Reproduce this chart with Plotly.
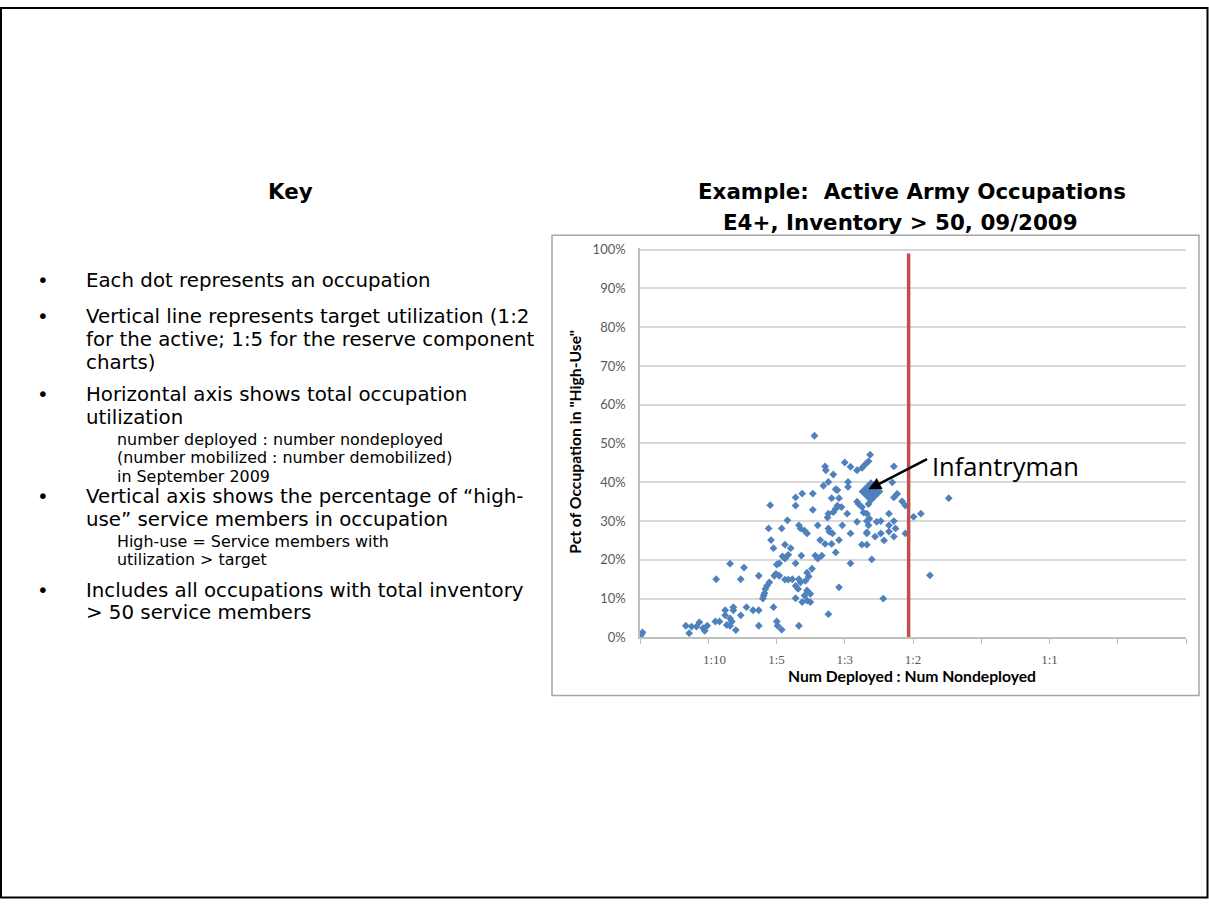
import plotly.graph_objects as go

W, H = 1209, 907

# ---- data (deployed share of occupation = deployed / (deployed + nondeployed), pct high-use) ----
deployed_share = [
    0.000, 0.002, 0.003, 0.001,
    0.056, 0.060, 0.063, 0.069, 0.0725, 0.077, 0.079, 0.082, 0.092, 0.097,
    0.104, 0.104, 0.106, 0.110, 0.110, 0.112, 0.114, 0.114, 0.117, 0.123,
    0.130, 0.138, 0.145, 0.145, 0.163, 0.167, 0.168, 0.173, 0.194, 0.230,
    0.093, 0.110, 0.123, 0.127, 0.145,
    0.150, 0.151, 0.152, 0.153, 0.155, 0.158, 0.164, 0.166, 0.170, 0.177, 0.181, 0.186,
    0.157, 0.159, 0.160, 0.163, 0.167, 0.170, 0.173, 0.174, 0.177, 0.177, 0.180, 0.181,
    0.184, 0.190, 0.190, 0.190, 0.194, 0.196, 0.197, 0.198, 0.201, 0.204, 0.211, 0.211,
    0.214, 0.217, 0.222, 0.217, 0.220, 0.226, 0.234, 0.243, 0.239, 0.230, 0.231, 0.235,
    0.247, 0.257, 0.230, 0.229, 0.236, 0.239, 0.241, 0.253, 0.234, 0.243, 0.224, 0.241, 0.254,
    0.210, 0.204, 0.206, 0.202, 0.194, 0.196, 0.190, 0.193, 0.204, 0.208, 0.190, 0.201,
    0.204, 0.208, 0.198, 0.243, 0.257,
    0.213, 0.226, 0.227, 0.236, 0.250, 0.257, 0.230, 0.254, 0.239, 0.246, 0.265, 0.267,
    0.279, 0.273, 0.280, 0.265, 0.279, 0.289, 0.277, 0.271, 0.277, 0.283,
    0.281, 0.279, 0.275, 0.271, 0.265, 0.310, 0.308, 0.314, 0.310, 0.271, 0.320, 0.324,
    0.377, 0.277, 0.304, 0.343, 0.334, 0.277, 0.294, 0.310, 0.304, 0.312, 0.277, 0.294,
    0.304, 0.324, 0.287, 0.298, 0.310, 0.354, 0.297,
]
pct_high_use = [
    0.3, 0.9, 1.3, 0.0,
    3.0, 1.1, 2.8, 2.8, 3.9, 2.4, 1.7, 3.0, 4.1, 4.1,
    7.0, 5.7, 3.2, 3.0, 4.9, 4.1, 7.8, 7.0, 1.9, 5.7,
    7.8, 7.0, 7.0, 3.0, 7.8, 4.1, 3.0, 2.0, 3.0, 6.0,
    15.0, 19.0, 15.0, 18.0, 15.9,
    10.0, 10.8, 11.4, 12.5, 13.3, 14.2, 15.9, 16.4, 15.9, 14.9, 14.9, 15.0,
    28.1, 34.1, 25.1, 23.0, 18.8, 19.1, 28.1, 20.9, 20.3, 23.9, 30.2, 21.3,
    23.0, 19.1, 34.0, 36.1, 28.9, 28.1, 21.1, 37.1, 27.5, 26.8, 37.1, 32.9,
    21.1, 20.3, 21.1, 28.9, 25.1, 24.1, 24.1, 25.1, 21.9, 28.1, 27.3, 26.8,
    28.9, 26.8, 31.9, 30.9, 32.3, 33.2, 34.0, 31.9, 35.9, 35.9, 39.1, 38.0, 38.8,
    17.7, 16.7, 15.7, 14.6, 15.0, 14.2, 13.3, 12.5, 12.1, 11.2, 10.1, 10.8,
    9.5, 9.1, 9.1, 12.9, 19.1,
    52.0, 44.1, 43.1, 42.0, 45.1, 44.0, 40.1, 40.1, 38.2, 33.6, 35.0, 34.4,
    34.4, 32.2, 30.6, 29.8, 28.9, 29.8, 27.1, 23.9, 23.9, 20.1,
    47.1, 45.4, 44.6, 43.7, 43.1, 44.1, 40.0, 37.0, 36.1, 33.6, 35.1, 34.0,
    35.9, 31.9, 31.9, 31.9, 31.1, 30.0, 30.0, 30.0, 28.9, 28.1, 26.8, 26.8,
    27.3, 26.8, 26.0, 25.0, 26.0, 16.0, 10.0,
]
infantry_share = [0.282]
infantry_pct = [37.6]
target_share = [0.328, 0.328]
target_pct = [0, 99]

ratio_tick_vals = [1 / 11, 1 / 6, 1 / 4, 1 / 3, 1 / 2]
ratio_tick_text = ["1:10", "1:5", "1:3", "1:2", "1:1"]
minor_tick_vals = [0, 1 / 12, 2 / 12, 3 / 12, 4 / 12, 5 / 12, 6 / 12, 7 / 12, 8 / 12]
y_tick_vals = [0, 10, 20, 30, 40, 50, 60, 70, 80, 90, 100]
y_tick_text = ["0%", "10%", "20%", "30%", "40%", "50%", "60%", "70%", "80%", "90%", "100%"]

key_bullets = [
    ("Each dot represents an occupation", 278),
    ("Vertical line represents target utilization (1:2", 315),
    ("Horizontal axis shows total occupation", 394),
    ("Vertical axis shows the percentage of \u201chigh-", 498),
    ("Includes all occupations with total inventory", 593),
]
key_cont = [
    ("for the active; 1:5 for the reserve component", 338),
    ("charts)", 361),
    ("utilization", 417),
    ("use\u201d service members in occupation", 521),
    ("> 50 service members", 616),
]
key_sub = [
    ("number deployed : number nondeployed", 440),
    ("(number mobilized : number demobilized)", 458.5),
    ("in September 2009", 477),
    ("High-use = Service members with", 543),
    ("utilization > target", 561.5),
]

TXT = "DejaVu Sans"
AX = "Lato"
BLUE = "#4f81bd"
RED = "#c0504d"
MAIN_SIZE = 19.8
SUB_SIZE = 15.9
TITLE_SIZE = 21.4


def px(x):
    return x / W


def py(y):
    return 1 - y / H


X0, X1 = 640, 1186
Y0, Y1 = 641, 245.5

fig = go.Figure()
fig.add_trace(go.Scatter(
    x=deployed_share, y=pct_high_use, mode="markers",
    marker=dict(symbol="diamond", size=6, color=BLUE),
    hoverinfo="skip", showlegend=False))
fig.add_trace(go.Scatter(
    x=infantry_share, y=infantry_pct, mode="markers",
    marker=dict(symbol="diamond", size=19, color=BLUE),
    hoverinfo="skip", showlegend=False))
fig.add_trace(go.Scatter(
    x=target_share, y=target_pct, mode="lines", xaxis="x2",
    line=dict(color=RED, width=3.5),
    hoverinfo="skip", showlegend=False))

xr = [0, 8 / 12]
fig.update_layout(
    width=W, height=H,
    margin=dict(l=0, r=0, t=0, b=0),
    paper_bgcolor="white", plot_bgcolor="white",
    font=dict(family=TXT, color="#000000"),
    xaxis=dict(domain=[px(X0), px(X1)], range=xr, tickmode="array",
               tickvals=minor_tick_vals, ticktext=[""] * len(minor_tick_vals),
               ticks="outside", ticklen=5, tickcolor="#bfbfbf", tickwidth=1,
               showline=True, linecolor="#bfbfbf", linewidth=1.5,
               showgrid=False, zeroline=False, fixedrange=True),
    xaxis2=dict(overlaying="x", anchor="y", range=xr, tickmode="array",
                tickvals=ratio_tick_vals, ticktext=ratio_tick_text,
                ticks="outside", ticklen=10, tickcolor="rgba(0,0,0,0)",
                tickfont=dict(family="Liberation Serif", size=13, color="#595959"),
                showline=False, showgrid=False, zeroline=False, fixedrange=True),
    yaxis=dict(domain=[py(Y0), py(Y1)], range=[0, 100.3], tickmode="array",
               tickvals=y_tick_vals, ticktext=y_tick_text,
               ticks="outside", ticklen=10, tickcolor="rgba(0,0,0,0)",
               tickfont=dict(family=AX, size=13, color="#595959"),
               showgrid=True, gridcolor="#d9d9d9", gridwidth=1.5,
               showline=True, linecolor="#bfbfbf", linewidth=1.5,
               zeroline=False, fixedrange=True),
)

shapes = [
    dict(type="rect", xref="paper", yref="paper", x0=px(1), x1=px(W - 1.5),
         y0=py(H - 1.5), y1=py(1), line=dict(color="black", width=2)),
    dict(type="rect", xref="paper", yref="paper", x0=px(552), x1=px(1199),
         y0=py(700), y1=py(232), line=dict(color="#a6a6a6", width=1.5)),
]
fig.update_layout(shapes=shapes)


def label(text, x, y, size, family=TXT, anchor="left", color="#000000", angle=0):
    return dict(text=text, x=px(x), y=py(y), xref="paper", yref="paper",
                showarrow=False, xanchor=anchor, yanchor="middle", borderpad=0,
                textangle=angle, font=dict(size=size, family=family, color=color))


ann = []
ann.append(label("<b>Key</b>", 290, 188, TITLE_SIZE, anchor="center"))
ann.append(label("<b>Example:  Active Army Occupations</b>", 912, 188, TITLE_SIZE,
                 anchor="center"))
ann.append(label("<b>E4+, Inventory > 50, 09/2009</b>", 900, 219, TITLE_SIZE,
                 anchor="center"))
for t, yy in key_bullets:
    ann.append(label("\u2022", 43, yy, MAIN_SIZE, anchor="center"))
    ann.append(label(t, 85, yy, MAIN_SIZE))
for t, yy in key_cont:
    ann.append(label(t, 85, yy, MAIN_SIZE))
for t, yy in key_sub:
    ann.append(label(t, 116, yy, SUB_SIZE))

# axis titles
ann.append(label("<b>Pct of Occupation in \"High-Use\"</b>", 575, 442, 15.7,
                 family=AX, anchor="center", angle=-90))
ann.append(label("<b>Num Deployed : Num Nondeployed</b>", 912, 680, 15.7,
                 family=AX, anchor="center"))

# Infantryman callout
ann.append(dict(text="", x=0.279, y=38.2, xref="x", yref="y", showarrow=True,
                ax=60, ay=-31, arrowhead=2, arrowsize=1, arrowwidth=2.5,
                arrowcolor="black", standoff=0, startstandoff=0))
ann.append(label("Infantryman", 931, 467, 25.5, family="Open Sans"))

fig.update_layout(annotations=ann)

fig.write_html("out.html", include_plotlyjs=True, full_html=True,
               config={"displayModeBar": False},
               post_script="document.body.style.margin='0';document.body.style.overflow='hidden';")
